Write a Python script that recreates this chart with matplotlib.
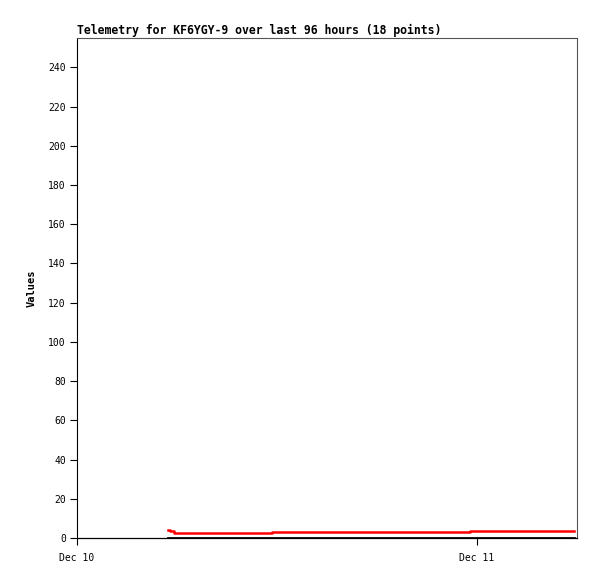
import matplotlib
matplotlib.use("Agg")
import matplotlib.pyplot as plt
import matplotlib.dates as mdates
from datetime import datetime, timedelta

# hours after Dec 10 00:00 for each of the 18 telemetry points
horas = [5.45, 5.6, 5.8, 7.2, 8.6, 10.0, 11.7, 13.3, 15.0, 16.7,
         18.4, 20.1, 21.8, 23.6, 25.2, 26.8, 28.3, 29.8]
canal_vermelho = [4.0, 3.5, 2.8, 2.8, 2.8, 2.8, 3.2, 3.2, 3.2, 3.2,
                  3.2, 3.2, 3.2, 3.7, 3.7, 3.7, 3.7, 3.7]
canal_preto = [0.0] * 18

inicio = datetime(2023, 12, 10)
tempos = [inicio + timedelta(hours=h) for h in horas]

plt.rcParams['font.family'] = ['DejaVu Sans Mono']

fig = plt.figure(figsize=(5.97, 5.79), dpi=100)
ax = fig.add_axes([77 / 597, 41 / 579, 500 / 597, 500 / 579])

ax.plot(tempos, canal_preto, color='black', linewidth=2.0, drawstyle='steps-post', zorder=3)
ax.plot(tempos, canal_vermelho, color='#ff0000', linewidth=1.8, drawstyle='steps-post', zorder=4)

ax.set_xlim(inicio, inicio + timedelta(hours=30))
ax.set_ylim(0, 255)
ax.set_yticks(range(0, 241, 20))
ax.set_xticks([inicio, inicio + timedelta(hours=24)])
ax.xaxis.set_major_formatter(mdates.DateFormatter('%b %d'))

ax.tick_params(axis='both', labelsize=7, length=5, width=0.8, color='black', pad=3)
ax.tick_params(axis='x', pad=6)

for lado in ['top', 'right']:
    ax.spines[lado].set_color('#555555')
ax.spines['left'].set_color('black')
ax.spines['bottom'].set_color('black')
ax.spines['bottom'].set_linewidth(0.9)

ax.set_ylabel("Values", fontsize=7.5, fontweight='bold', labelpad=8)
ax.set_title("Telemetry for KF6YGY-9 over last 96 hours (18 points)",
             loc='left', fontsize=8.3, fontweight='bold', pad=3)

fig.savefig("out.png", dpi=100)
